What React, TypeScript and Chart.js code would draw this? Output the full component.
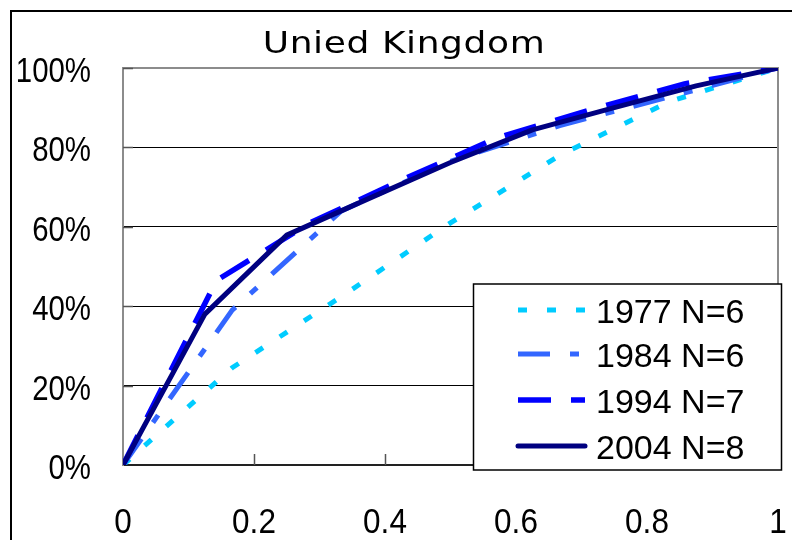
import React, { useEffect, useRef } from "react";
import { Chart, registerables } from "chart.js";

Chart.register(...registerables);

const TITLE = "Unied Kingdom";
const SERIES_LABELS = ["1977 N=6", "1984 N=6", "1994 N=7", "2004 N=8"];

const X_1977 = [0, 0.1667, 0.3333, 0.5, 0.6667, 0.8333, 1];
const Y_1977 = [0, 0.245, 0.424, 0.61, 0.78, 0.915, 1];
const X_1984 = [0, 0.1667, 0.3333, 0.5, 0.6667, 0.8333, 1];
const Y_1984 = [0, 0.39, 0.64, 0.765, 0.855, 0.927, 1];
const X_1994 = [0, 0.1429, 0.2857, 0.4286, 0.5714, 0.7143, 0.8571, 1];
const Y_1994 = [0, 0.465, 0.61, 0.72, 0.824, 0.895, 0.96, 1];
const X_2004 = [0, 0.125, 0.25, 0.375, 0.5, 0.625, 0.75, 0.875, 1];
const Y_2004 = [0, 0.38, 0.579, 0.671, 0.762, 0.844, 0.9, 0.955, 1];

const X_TICKS = [0, 0.2, 0.4, 0.6, 0.8, 1];
const X_TICK_LABELS = ["0", "0.2", "0.4", "0.6", "0.8", "1"];
const Y_TICKS = [0, 0.2, 0.4, 0.6, 0.8, 1];
const Y_TICK_LABELS = ["0%", "20%", "40%", "60%", "80%", "100%"];

const pts = (xs: number[], ys: number[]) => xs.map((x, i) => ({ x, y: ys[i] }));

const LABEL_FONT = "35px 'Liberation Sans', Arial, sans-serif";

export default function App() {
  const ref = useRef<HTMLCanvasElement | null>(null);

  useEffect(() => {
    if (!ref.current) return;

    const decorations = {
      id: "decorations",
      beforeDatasetsDraw(chart: any) {
        const { ctx, chartArea: a } = chart;
        const xs = chart.scales.x;
        const ys = chart.scales.y;
        ctx.save();
        // plot border top & right
        ctx.strokeStyle = "#8c8c8c";
        ctx.lineWidth = 2;
        ctx.beginPath();
        ctx.moveTo(a.left, a.top);
        ctx.lineTo(a.right, a.top);
        ctx.lineTo(a.right, a.bottom);
        ctx.stroke();
        // inward ticks
        ctx.strokeStyle = "#555";
        ctx.lineWidth = 1.5;
        ctx.beginPath();
        X_TICKS.forEach((v) => {
          if (v === 0 || v === 1) return;
          const px = Math.round(xs.getPixelForValue(v)) + 0.5;
          ctx.moveTo(px, a.bottom);
          ctx.lineTo(px, a.bottom - 11);
        });
        Y_TICKS.forEach((v) => {
          if (v === 0) return;
          const py = Math.round(ys.getPixelForValue(v)) + 0.5;
          ctx.moveTo(a.left, py);
          ctx.lineTo(a.left + 10, py);
        });
        ctx.stroke();
        ctx.restore();
      },
      afterDraw(chart: any) {
        const { ctx, chartArea: a } = chart;
        const xs = chart.scales.x;
        const ys = chart.scales.y;
        ctx.save();
        ctx.fillStyle = "#000";
        ctx.font = LABEL_FONT;
        ctx.textBaseline = "alphabetic";

        // y tick labels (slightly condensed face)
        ctx.textAlign = "right";
        Y_TICKS.forEach((v, i) => {
          const py = ys.getPixelForValue(v);
          ctx.save();
          ctx.translate(a.left - 32, py + 14);
          ctx.scale(0.84, 1);
          ctx.fillText(Y_TICK_LABELS[i], 0, 0);
          ctx.restore();
        });
        // x tick labels
        ctx.textAlign = "center";
        X_TICKS.forEach((v, i) => {
          const px = xs.getPixelForValue(v);
          ctx.save();
          ctx.translate(px, a.bottom + 68);
          ctx.scale(0.9, 1);
          ctx.fillText(X_TICK_LABELS[i], 0, 0);
          ctx.restore();
        });

        // title
        ctx.save();
        ctx.font = "30px 'DejaVu Sans', sans-serif";
        (ctx as any).letterSpacing = "0.5px";
        ctx.textAlign = "center";
        ctx.translate(404, 53);
        ctx.scale(1.2, 1);
        ctx.fillText(TITLE, 0, 0);
        ctx.restore();

        // legend box
        const bx = 473.5, by = 284, bw = 308, bh = 186;
        ctx.fillStyle = "#fff";
        ctx.fillRect(bx, by, bw, bh);
        ctx.strokeStyle = "#000";
        ctx.lineWidth = 1.5;
        ctx.strokeRect(bx, by, bw, bh);
        const rows = [310, 354, 400, 446];
        chart.data.datasets.forEach((ds: any, i: number) => {
          const y = rows[i];
          ctx.save();
          ctx.strokeStyle = ds.borderColor;
          ctx.lineWidth = ds.borderWidth;
          ctx.setLineDash(ds.borderDash || []);
          ctx.lineCap = ds.borderDash && ds.borderDash.length ? "butt" : "round";
          ctx.beginPath();
          ctx.moveTo(518, y);
          ctx.lineTo(585, y);
          ctx.stroke();
          ctx.restore();
          ctx.fillStyle = "#000";
          ctx.font = "34px 'Liberation Sans', Arial, sans-serif";
          ctx.textAlign = "left";
          ctx.textBaseline = "alphabetic";
          ctx.fillText(ds.label, 596, y + 13);
        });
        ctx.restore();
      },
    };

    const chart = new Chart(ref.current, {
      type: "line",
      data: {
        datasets: [
          {
            label: SERIES_LABELS[0],
            data: pts(X_1977, Y_1977),
            borderColor: "#00ccff",
            borderWidth: 5,
            borderDash: [9, 20],
            pointRadius: 0,
            tension: 0,
            fill: false,
            order: 3,
          },
          {
            label: SERIES_LABELS[1],
            data: pts(X_1984, Y_1984),
            borderColor: "#3366ff",
            borderWidth: 5,
            borderDash: [32, 20, 9, 20],
            pointRadius: 0,
            tension: 0,
            fill: false,
            order: 2,
          },
          {
            label: SERIES_LABELS[2],
            data: pts(X_1994, Y_1994),
            borderColor: "#0000ff",
            borderWidth: 5.5,
            borderDash: [33, 20],
            pointRadius: 0,
            tension: 0,
            fill: false,
            order: 1,
          },
          {
            label: SERIES_LABELS[3],
            data: pts(X_2004, Y_2004),
            borderColor: "#000080",
            borderWidth: 5,
            borderJoinStyle: "round",
            pointRadius: 0,
            tension: 0,
            fill: false,
            order: 0,
          },
        ] as any,
      },
      options: {
        animation: false,
        responsive: false,
        devicePixelRatio: 1,
        layout: { padding: { left: 0, top: 68, right: 14, bottom: 0 } },
        plugins: {
          legend: { display: false },
          title: { display: false },
          tooltip: { enabled: false },
        },
        scales: {
          x: {
            type: "linear",
            min: 0,
            max: 1,
            afterBuildTicks: (s: any) => {
              s.ticks = X_TICKS.map((v) => ({ value: v }));
            },
            afterFit: (s: any) => {
              s.height = 75;
              s.paddingLeft = 0;
              s.paddingRight = 0;
            },
            ticks: { display: false },
            grid: { display: false, drawTicks: false },
            border: { display: true, color: "#222", width: 2 },
          },
          y: {
            type: "linear",
            min: 0,
            max: 1,
            afterBuildTicks: (s: any) => {
              s.ticks = Y_TICKS.map((v) => ({ value: v }));
            },
            afterFit: (s: any) => {
              s.width = 123;
              s.paddingTop = 0;
              s.paddingBottom = 0;
            },
            ticks: { display: false },
            grid: {
              drawTicks: false,
              lineWidth: 1,
              color: (c: any) =>
                c.tick && c.tick.value > 0 && c.tick.value < 1 ? "#000" : "rgba(0,0,0,0)",
            },
            border: { display: true, color: "#8c8c8c", width: 2 },
          },
        },
      },
      plugins: [decorations],
    } as any);

    return () => chart.destroy();
  }, []);

  return (
    <div
      style={{
        position: "fixed",
        left: 0,
        top: 0,
        width: 792,
        height: 540,
        background: "#fff",
        overflow: "hidden",
      }}
    >
      <div
        style={{
          position: "absolute",
          left: 10,
          top: 10,
          width: 900,
          height: 700,
          borderLeft: "2px solid #000",
          borderTop: "2px solid #000",
        }}
      />
      <canvas
        ref={ref}
        width={792}
        height={540}
        style={{ position: "absolute", left: 0, top: 0, display: "block" }}
      />
    </div>
  );
}
